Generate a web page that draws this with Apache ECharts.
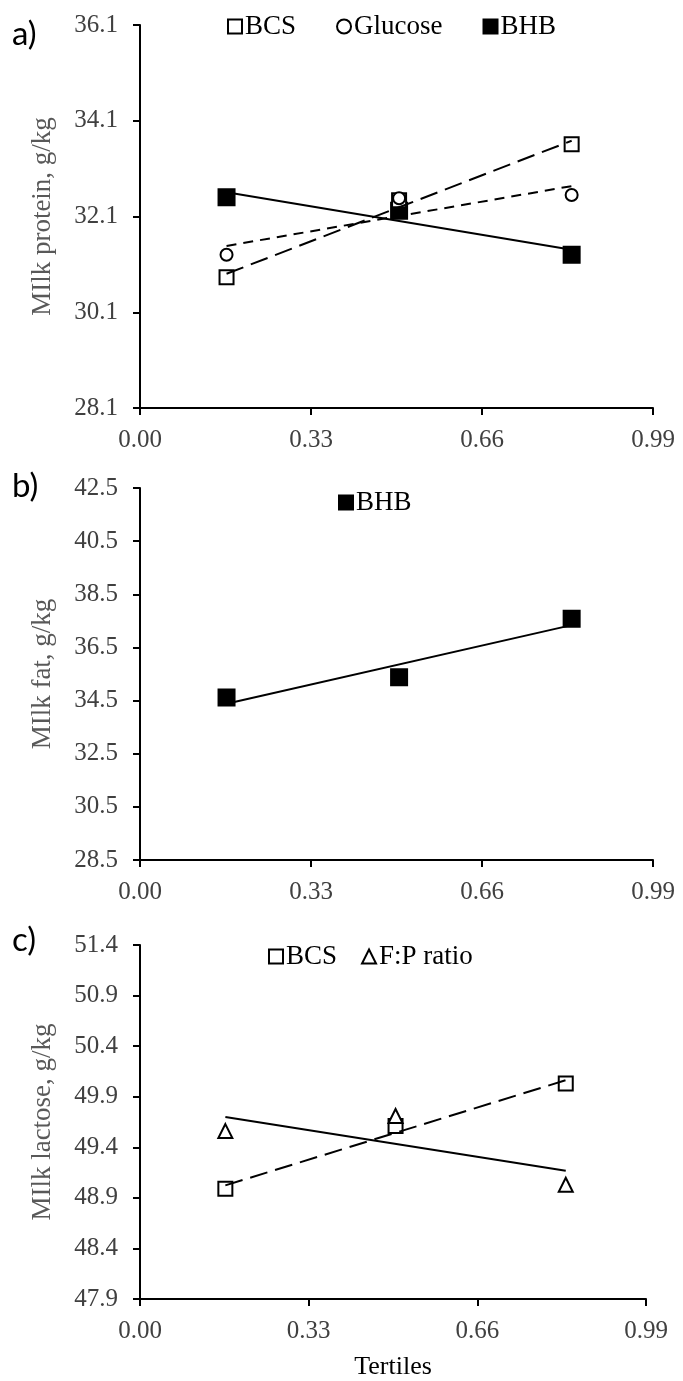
<!DOCTYPE html>
<html>
<head>
<meta charset="utf-8">
<script src="https://cdn.jsdelivr.net/npm/echarts@6/dist/echarts.min.js"></script>
<style>
  html, body { margin: 0; padding: 0; background: #fff; }
  #main { width: 683px; height: 1381px; }
</style>
</head>
<body>
<div id="main"></div>
<script>
// tertile midpoints on the x axis
var tertileX = [0.167, 0.5, 0.833];

// a) milk protein, g/kg
var proteinBCS = [30.83, 32.44, 33.61];
var proteinGlucose = [31.30, 32.48, 32.55];
var proteinBHB = [32.50, 32.22, 31.30];
// b) milk fat, g/kg
var fatBHB = [34.62, 35.38, 37.58];
// c) milk lactose, g/kg
var lactoseBCS = [48.99, 49.61, 50.03];
var lactoseFP = [49.56, 49.71, 49.03];

// axis ranges [min, max, step]
var xRange = [0, 0.99, 0.33];
var proteinRange = [28.1, 36.1, 2];
var fatRange = [28.5, 42.5, 2];
var lactoseRange = [47.9, 51.4, 0.5];

var serif = "'Liberation Serif', 'Times New Roman', serif";

function pairs(ys) {
    var out = [];
    for (var i = 0; i < ys.length; i++) out.push([tertileX[i], ys[i]]);
    return out;
}

// least squares line, drawn from the first to the last tertile
function trend(ys) {
    var n = ys.length, sx = 0, sy = 0, sxx = 0, sxy = 0;
    for (var i = 0; i < n; i++) {
        sx += tertileX[i]; sy += ys[i];
        sxx += tertileX[i] * tertileX[i]; sxy += tertileX[i] * ys[i];
    }
    var b = (n * sxy - sx * sy) / (n * sxx - sx * sx);
    var a = (sy - b * sx) / n;
    var x0 = tertileX[0], x1 = tertileX[n - 1];
    return [[x0, a + b * x0], [x1, a + b * x1]];
}

function xAxis(idx, name) {
    return {
        type: 'value', gridIndex: idx,
        min: xRange[0], max: xRange[1], interval: xRange[2],
        name: name || '', nameLocation: 'middle', nameGap: 55,
        nameTextStyle: { fontFamily: serif, fontSize: 26, color: '#000' },
        axisLine: { show: true, lineStyle: { color: '#000', width: 2 } },
        axisTick: { show: true, length: 7, lineStyle: { color: '#000', width: 2 } },
        splitLine: { show: false },
        axisLabel: {
            fontFamily: serif, fontSize: 25, color: '#404040', margin: 20,
            formatter: function (v) { return v.toFixed(2); }
        }
    };
}

function yAxis(idx, range, name) {
    return {
        type: 'value', gridIndex: idx,
        min: range[0], max: range[1], interval: range[2],
        name: name, nameLocation: 'middle', nameGap: 84,
        nameTextStyle: { fontFamily: serif, fontSize: 27, color: '#595959' },
        axisLine: { show: true, lineStyle: { color: '#000', width: 2 } },
        axisTick: { show: true, length: 7, lineStyle: { color: '#000', width: 2 } },
        splitLine: { show: false },
        axisLabel: {
            fontFamily: serif, fontSize: 25, color: '#404040', margin: 22,
            formatter: function (v) { return v.toFixed(1); }
        }
    };
}

function dots(name, idx, ys, symbol, size, fill, z) {
    return {
        name: name, type: 'scatter', xAxisIndex: idx, yAxisIndex: idx,
        data: pairs(ys), symbol: symbol, symbolSize: size, z: z,
        itemStyle: { color: fill, borderColor: '#000', borderWidth: 2, opacity: 1 }
    };
}

function fitLine(name, idx, ys, dash) {
    return {
        name: name, type: 'line', xAxisIndex: idx, yAxisIndex: idx,
        data: trend(ys), symbol: 'none', silent: true, z: 5,
        lineStyle: { color: '#000', width: 2, type: dash }
    };
}

function legendAt(left, top, names, gap) {
    return {
        left: left, top: top, padding: 0, orient: 'horizontal',
        itemWidth: 14, itemHeight: 14, itemGap: gap, selectedMode: false,
        data: names,
        textStyle: { fontFamily: serif, fontSize: 27, color: '#000', padding: [0, 0, 0, -2] }
    };
}

function panelTag(text, top) {
    return {
        text: text, left: 12, top: top, padding: 0,
        textStyle: { fontFamily: 'Lato, "Open Sans", sans-serif', fontSize: 33, fontWeight: 'normal', color: '#000' }
    };
}

var myChart = echarts.init(document.getElementById('main'), null, { renderer: 'canvas' });

var option = {
    animation: false,
    backgroundColor: '#fff',
    title: [panelTag('a)', 18), panelTag('b)', 470), panelTag('c)', 924)],
    legend: [
        legendAt(227, 13, ['BCS', 'Glucose', 'BHB'], 40),
        legendAt(338, 489, ['BHB'], 10),
        legendAt(268, 943, ['BCS', 'F:P ratio'], 24)
    ],
    grid: [
        { left: 140, right: 30, top: 25, height: 383 },
        { left: 140, right: 30, top: 488, height: 372 },
        { left: 140, right: 37, top: 945, height: 356 }
    ],
    xAxis: [xAxis(0), xAxis(1), xAxis(2, 'Tertiles')],
    yAxis: [
        yAxis(0, proteinRange, 'MIlk protein, g/kg'),
        yAxis(1, fatRange, 'MIlk fat, g/kg'),
        yAxis(2, lactoseRange, 'MIlk lactose, g/kg')
    ],
    series: [
        // a)
        dots('BHB', 0, proteinBHB, 'rect', 16, '#000', 2),
        dots('BCS', 0, proteinBCS, 'rect', 14, '#fff', 3),
        dots('Glucose', 0, proteinGlucose, 'circle', 12, '#fff', 4),
        fitLine('BHB fit a', 0, proteinBHB, 'solid'),
        fitLine('BCS fit a', 0, proteinBCS, [18, 8]),
        fitLine('Glucose fit a', 0, proteinGlucose, [10, 7]),
        // b)
        dots('BHB', 1, fatBHB, 'rect', 16, '#000', 2),
        fitLine('BHB fit b', 1, fatBHB, 'solid'),
        // c)
        dots('BCS', 2, lactoseBCS, 'rect', 14, '#fff', 3),
        dots('F:P ratio', 2, lactoseFP, 'triangle', 14, '#fff', 4),
        fitLine('BCS fit c', 2, lactoseBCS, [18, 8]),
        fitLine('F:P fit c', 2, lactoseFP, 'solid')
    ]
};
myChart.setOption(option);
</script>
</body>
</html>
